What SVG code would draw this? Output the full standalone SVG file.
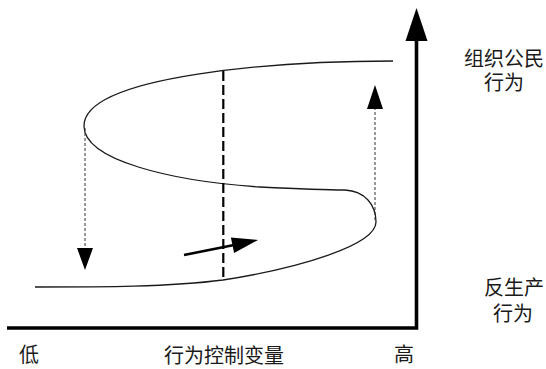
<svg xmlns="http://www.w3.org/2000/svg" width="546" height="369" viewBox="0 0 546 369">
<style>
text{font-family:"Liberation Sans","Noto Sans CJK SC",sans-serif;font-size:20px;fill:#1a1a1a;text-anchor:middle}
.curve{fill:none;stroke:#1a1a1a;stroke-width:1.3}
.dot{fill:none;stroke:#333;stroke-width:1;stroke-dasharray:3 2}
.dash{fill:none;stroke:#000;stroke-width:2.2;stroke-dasharray:10 4}
.head{fill:#000}
</style>
<rect width="546" height="369" fill="#fff"/>
<g id="axes">
<polyline points="7,328 416.5,328 416.5,38" fill="none" stroke="#000" stroke-width="3.6" stroke-linejoin="miter"/>
<polygon class="head" points="416.5,8 405.5,41 427.5,41"/>
</g>
<g id="s-curve">
<path class="curve" d="M393,61 C280,61 84,75 84,126 C84,160 170,181 260,187 C300,189 320,190 345,190 C365,191 376,205 376,222 C376,245 300,268 223,280 C170,287 100,287 35,287"/>
</g>
<g id="connectors">
<line class="dash" x1="223.3" y1="71" x2="223.3" y2="281"/>
<line class="dot" x1="85" y1="128" x2="85" y2="250"/>
<polygon class="head" points="85,270 77,248 93,248"/>
<line class="dot" x1="375" y1="220" x2="375" y2="107"/>
<polygon class="head" points="375,85 367,109 383,109"/>
<line x1="184" y1="255" x2="234" y2="245" stroke="#000" stroke-width="2.6"/>
<polygon class="head" points="258,240 234.1,253 230.9,237.4"/>
</g>
<g id="label-ocb">
<text x="504" y="65.5">组织公民</text>
<text x="504" y="90">行为</text>
</g>
<g id="label-cwb">
<text x="514" y="295">反生产</text>
<text x="513" y="321">行为</text>
</g>
<g id="label-low"><text x="29" y="361.5">低</text></g>
<g id="label-x"><text x="224" y="363">行为控制变量</text></g>
<g id="label-high"><text x="404" y="362">高</text></g>
</svg>
